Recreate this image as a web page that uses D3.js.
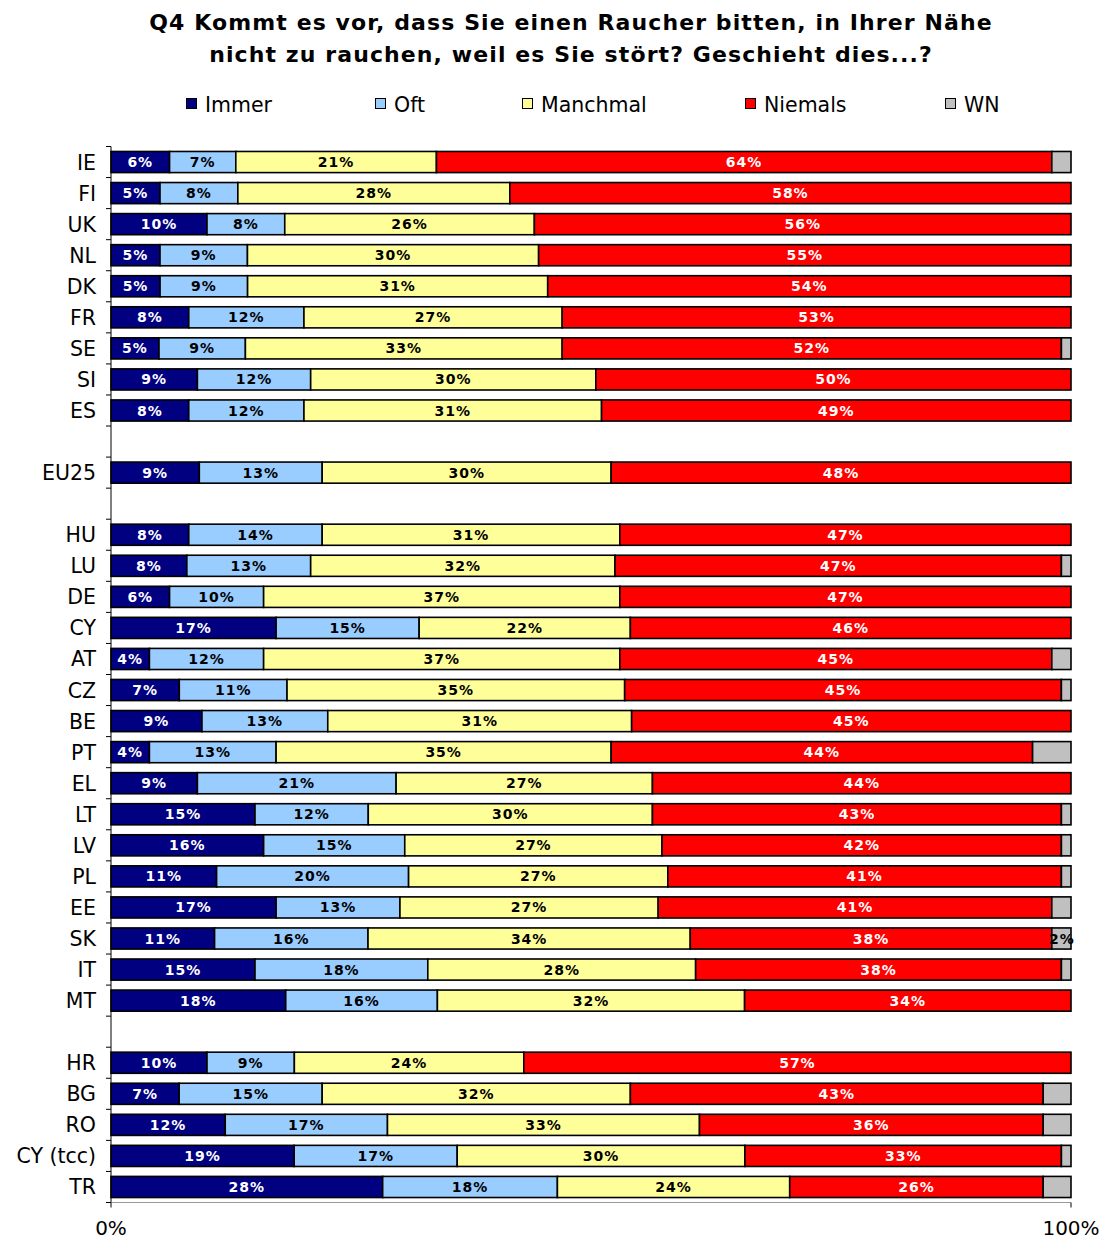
<!DOCTYPE html>
<html>
<head>
<meta charset="utf-8">
<script src="https://cdn.jsdelivr.net/npm/d3@7"></script>
<style>
  html, body { margin: 0; padding: 0; background: #fff; }
  svg { display: block; font-family: "DejaVu Sans", Verdana, sans-serif; }
</style>
</head>
<body>
<svg id="chart" width="1105" height="1241"></svg>
<script>
// ---- Data (percent values) ----
const titleLines = [
  "Q4 Kommt es vor, dass Sie einen Raucher bitten, in Ihrer Nähe",
  "nicht zu rauchen, weil es Sie stört? Geschieht dies...?"
];
const seriesNames = ["Immer", "Oft", "Manchmal", "Niemals", "WN"];
const seriesColors = ["#000080", "#99CCFF", "#FFFF99", "#FF0000", "#C0C0C0"];
const labelColors = ["#ffffff", "#000000", "#000000", "#ffffff", "#000000"];

const categories = ["IE","FI","UK","NL","DK","FR","SE","SI","ES",
  "EU25",
  "HU","LU","DE","CY","AT","CZ","BE","PT","EL","LT","LV","PL","EE","SK","IT","MT",
  "HR","BG","RO","CY (tcc)","TR"];
const gapsAfter = ["ES", "EU25", "MT"];

const immer    = [6.1,5.1,10.0,5.1,5.1,8.1,5.0,9.0,8.1, 9.2, 8.1,7.9,6.1,17.2,4.0,7.1,9.4,4.0,9.0,15.0,15.9,11.0,17.2,10.8,15.0,18.2, 10.0,7.1,11.9,19.1,28.3];
const oft      = [6.9,8.1,8.1,9.1,9.1,12.0,9.0,11.8,12.0, 12.8, 13.9,12.9,9.8,14.9,11.9,11.2,13.0,13.2,20.7,11.8,14.7,20.0,12.9,16.0,18.0,15.8, 9.1,14.9,16.9,17.0,18.2];
const manchmal = [20.9,28.3,26.0,30.3,31.2,26.9,33.0,29.7,31.0, 30.1, 31.0,31.7,37.1,22.0,37.1,35.1,31.4,34.9,26.7,29.6,26.8,27.0,26.9,33.6,27.9,32.0, 23.9,32.1,32.5,30.0,24.2];
const niemals  = [64.1,58.4,55.9,55.4,54.4,53.0,52.0,49.5,48.9, 47.9, 47.0,46.5,47.0,45.9,45.0,45.4,45.4,43.9,43.6,42.6,41.6,41.0,41.0,37.7,38.1,34.0, 57.0,43.0,35.8,33.0,26.4];
const wn       = [2.0,0,0,0,0,0,1.0,0,0, 0, 0,1.0,0,0,2.0,1.0,0,4.0,0,1.0,1.0,1.0,2.0,2.0,1.0,0, 0,2.9,2.9,1.0,2.9];
const wnLabelled = ["SK"];
const xTickLabels = ["0%", "100%"];
const xTickValues = [0, 1];

// ---- Layout ----
const svg = d3.select("#chart");
const margin = { left: 111, right: 34, top: 146.5, bottom: 38.5 };
const W = 1105, H = 1241;
const plotW = W - margin.left - margin.right;
const plotH = H - margin.top - margin.bottom;

const domain = [];
let gi = 0;
categories.forEach(c => {
  domain.push(c);
  if (gapsAfter.includes(c)) domain.push("__gap" + (gi++));
});

const x = d3.scaleLinear().domain([0, 1]).range([margin.left, margin.left + plotW]);
const y = d3.scaleBand().domain(domain).range([margin.top, margin.top + plotH]).paddingInner(0.32).paddingOuter(0.16);

const seriesArrays = [immer, oft, manchmal, niemals, wn];
const rows = categories.map((c, i) => {
  const r = { cat: c };
  seriesNames.forEach((s, k) => r[s] = seriesArrays[k][i]);
  return r;
});
const stack = d3.stack().keys(seriesNames).offset(d3.stackOffsetExpand)(rows);

// ---- Title ----
svg.append("g").selectAll("text").data(titleLines).join("text")
  .attr("x", 571).attr("y", (d, i) => 30 + i * 32)
  .attr("text-anchor", "middle")
  .attr("font-size", 22).attr("font-weight", "bold").attr("letter-spacing", "1.1px").attr("fill", "#000")
  .text(d => d);

// ---- Legend ----
const legendX = [186, 375, 522, 745, 945];
const lg = svg.append("g").selectAll("g").data(seriesNames).join("g")
  .attr("transform", (d, i) => `translate(${legendX[i]},104)`);
lg.append("rect").attr("x", 0.5).attr("y", -5.5).attr("width", 10).attr("height", 10)
  .attr("fill", (d, i) => seriesColors[i]).attr("stroke", "#000").attr("stroke-width", 1);
lg.append("text").attr("x", 19).attr("y", 7.5).attr("font-size", 20.5).attr("fill", "#000").text(d => d);

// ---- Bars ----
const barG = svg.append("g");
stack.forEach((layer, k) => {
  barG.append("g").selectAll("rect").data(layer.filter(d => d[1] - d[0] > 0)).join("rect")
    .attr("x", d => x(d[0]))
    .attr("y", d => y(d.data.cat))
    .attr("width", d => x(d[1]) - x(d[0]))
    .attr("height", y.bandwidth())
    .attr("fill", seriesColors[k])
    .attr("stroke", "#000").attr("stroke-width", 1.6);
});

// ---- Bar labels ----
const labG = svg.append("g").attr("font-size", 14).attr("font-weight", "bold")
  .attr("letter-spacing", "1px");
stack.forEach((layer, k) => {
  const key = seriesNames[k];
  const show = layer.filter(d => k < 4 ? (d.data[key] > 0) : wnLabelled.includes(d.data.cat));
  labG.append("g").selectAll("text").data(show).join("text")
    .attr("x", d => k < 4 ? x((d[0] + d[1]) / 2) : x(d[0]) + 10)
    .attr("y", d => y(d.data.cat) + y.bandwidth() / 2 + 5)
    .attr("text-anchor", "middle")
    .attr("fill", labelColors[k])
    .text(d => Math.round(d.data[key]) + "%");
});

// ---- Y axis ----
const yAxisG = svg.append("g");
yAxisG.append("line").attr("x1", margin.left).attr("x2", margin.left)
  .attr("y1", margin.top).attr("y2", margin.top + plotH).attr("stroke", "#000").attr("stroke-width", 1);
const step = y.step();
const tickYs = d3.range(domain.length + 1).map(i => margin.top + i * step);
yAxisG.selectAll("line.t").data(tickYs).join("line").attr("class", "t")
  .attr("x1", margin.left - 5).attr("x2", margin.left)
  .attr("y1", d => d).attr("y2", d => d).attr("stroke", "#000");
yAxisG.selectAll("text").data(categories).join("text")
  .attr("x", 96).attr("y", d => y(d) + y.bandwidth() / 2 + 7.5)
  .attr("text-anchor", "end").attr("font-size", 20.5).attr("fill", "#000")
  .text(d => d);

// ---- X axis ----
const xAxisG = svg.append("g");
xAxisG.append("line").attr("x1", margin.left).attr("x2", margin.left + plotW)
  .attr("y1", margin.top + plotH).attr("y2", margin.top + plotH).attr("stroke", "#999").attr("stroke-width", 1);
xAxisG.selectAll("line.t").data(xTickValues).join("line").attr("class", "t")
  .attr("x1", d => x(d)).attr("x2", d => x(d))
  .attr("y1", margin.top + plotH).attr("y2", margin.top + plotH + 5).attr("stroke", "#000");
xAxisG.selectAll("text").data(xTickValues).join("text")
  .attr("x", d => x(d)).attr("y", 1235)
  .attr("text-anchor", "middle").attr("font-size", 20).attr("fill", "#000")
  .text((d, i) => xTickLabels[i]);
</script>
</body>
</html>
